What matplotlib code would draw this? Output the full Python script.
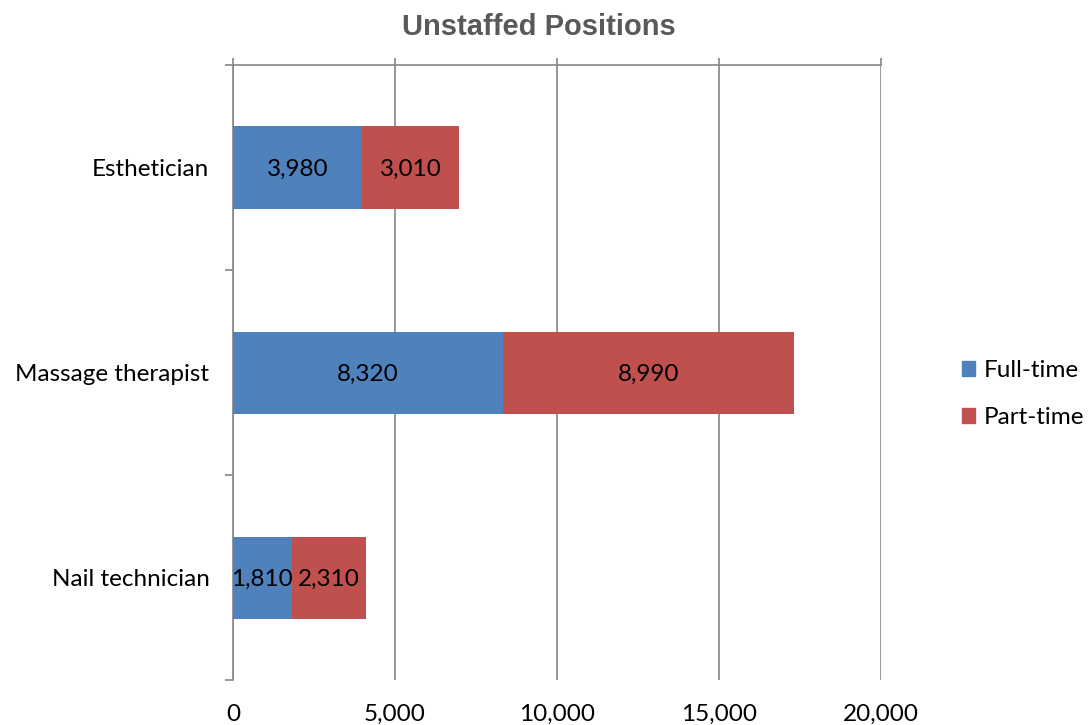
import matplotlib
matplotlib.use("Agg")
import matplotlib.pyplot as plt
from matplotlib.patches import Patch
import numpy as np

categories = ["Nail technician", "Massage therapist", "Esthetician"]
full_time = [1810, 8320, 3980]
part_time = [2310, 8990, 3010]
series_names = ["Full-time", "Part-time"]
x_ticks = [0, 5000, 10000, 15000, 20000]

BLUE = "#4F81BD"
RED = "#C0504D"
GRID = "#868686"
FONT = ["Lato", "DejaVu Sans"]
FS = 17.5

fig = plt.figure(figsize=(10.91, 7.25), dpi=100)
ax = fig.add_axes([233 / 1091, 1 - 680 / 725, (881 - 233) / 1091, (680 - 65) / 725])

y = np.arange(len(categories))
h = 0.4
b1 = ax.barh(y, full_time, height=h, color=BLUE, zorder=3)
b2 = ax.barh(y, part_time, left=full_time, height=h, color=RED, zorder=3)

for vals, lefts in [(full_time, [0] * 3), (part_time, full_time)]:
    for yi, v, l in zip(y, vals, lefts):
        ax.text(l + v / 2, yi, f"{v:,}", ha="center", va="center_baseline",
                fontsize=FS, family=FONT, color="black", zorder=4)

ax.set_xlim(0, 20000)
ax.set_ylim(-0.5, 2.5)
ax.set_xticks(x_ticks)
ax.set_xticklabels([f"{t:,}" for t in x_ticks], family=FONT, fontsize=FS)
ax.set_yticks(y)
ax.set_yticklabels(categories, family=FONT, fontsize=FS)
ax.set_yticks([-0.5, 0.5, 1.5, 2.5], minor=True)

ax.grid(axis="x", color=GRID, linewidth=1.2, zorder=0)
ax.set_axisbelow(True)

for s in ["right", "bottom"]:
    ax.spines[s].set_visible(False)
for s in ["left", "top"]:
    ax.spines[s].set_color(GRID)
    ax.spines[s].set_linewidth(1.2)

ax.tick_params(axis="x", which="both", bottom=False, top=True, labelbottom=True,
               labeltop=False, direction="out", length=5, color=GRID, width=1.2, pad=12)
ax.tick_params(axis="y", which="major", length=0, pad=17)
ax.tick_params(axis="y", which="minor", left=True, direction="out", length=6,
               color=GRID, width=1.2)

fig.text(0.494, 1 - 27 / 725, "Unstaffed Positions", ha="center", va="center",
         fontsize=21, fontweight="bold", color="#595959", family="Liberation Sans")

handles = [Patch(color=BLUE, label=series_names[0]), Patch(color=RED, label=series_names[1])]
fig.legend(handles=handles, loc="center left", bbox_to_anchor=(962 / 1091, 1 - 394 / 725),
           frameon=False, prop={"family": FONT, "size": FS}, handlelength=0.55,
           handleheight=0.55, handletextpad=0.35, labelspacing=1.08, borderpad=0,
           borderaxespad=0)

fig.savefig("out.png", dpi=100)
